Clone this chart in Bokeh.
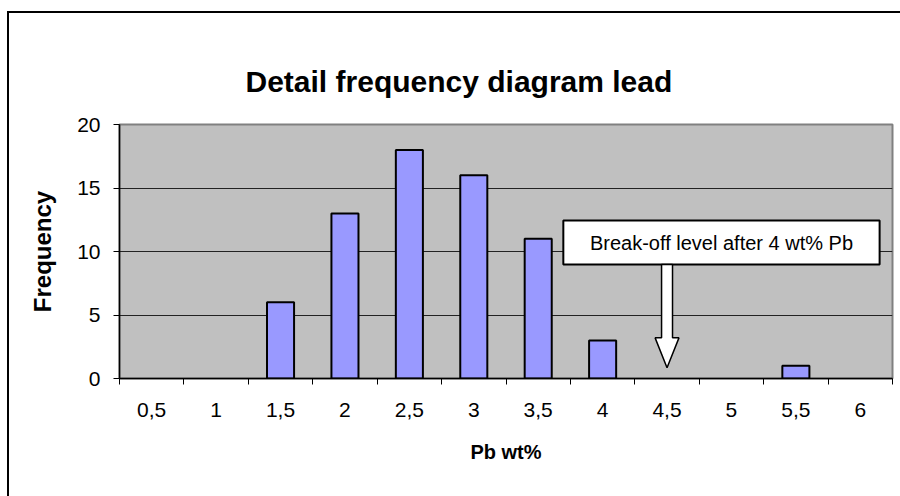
from bokeh.plotting import figure
from bokeh.models import FixedTicker, Range1d, ColumnDataSource
from bokeh.embed import file_html
from bokeh.resources import INLINE
from bokeh.core.properties import value

# ---- data ----
categories = ["0,5", "1", "1,5", "2", "2,5", "3", "3,5", "4", "4,5", "5", "5,5", "6"]
frequency = [0, 0, 6, 13, 18, 16, 11, 3, 0, 0, 1, 0]
y_ticks = [0, 5, 10, 15, 20]
title_text = "Detail frequency diagram lead"
x_label = "Pb wt%"
y_label = "Frequency"
note_text = "Break-off level after 4 wt% Pb"
note_category = "4,5"

FONT = "Liberation Sans"

n = len(categories)
centers = [i + 0.5 for i in range(n)]
bounds = list(range(n + 1))

p = figure(width=900, height=496, output_backend="svg", toolbar_location=None,
           x_range=Range1d(0, n), y_range=Range1d(0, y_ticks[-1]),
           min_border_left=119, min_border_right=8, min_border_top=124,
           min_border_bottom=118)

# chart-area border (left and top edges visible) drawn as host background
p.border_fill_alpha = 0
p.styles = {
    "background": "linear-gradient(#000,#000) 7px 11px / 2px 100% no-repeat, "
                  "linear-gradient(#000,#000) 7px 11px / 100% 2px no-repeat, #ffffff"
}

p.background_fill_color = "#C0C0C0"
p.outline_line_color = "#808080"
p.outline_line_width = 2

# title
p.title.text = title_text
p.title.text_font = FONT
p.title.text_font_size = "30px"
p.title.text_font_style = "bold"
p.title.text_color = "black"
p.title.align = "left"
p.title.offset = 126
p.title.standoff = 53

# grid
p.xgrid.grid_line_color = None
p.ygrid.ticker = FixedTicker(ticks=y_ticks)
p.ygrid.grid_line_color = "#222222"
p.ygrid.grid_line_width = 1

# x axis
xa = p.xaxis[0]
xa.ticker = FixedTicker(ticks=centers, minor_ticks=bounds)
xa.major_label_overrides = {c: lab for c, lab in zip(centers, categories)}
xa.major_tick_out = 0
xa.major_tick_in = 0
xa.minor_tick_out = 6
xa.minor_tick_in = 0
xa.minor_tick_line_color = "black"
xa.minor_tick_line_width = 1
xa.axis_line_color = "black"
xa.axis_line_width = 1.5
xa.major_label_text_font = FONT
xa.major_label_text_font_size = "21px"
xa.major_label_text_color = "black"
xa.major_label_standoff = 18
xa.axis_label = x_label
xa.axis_label_text_font = FONT
xa.axis_label_text_font_size = "20px"
xa.axis_label_text_font_style = "bold"
xa.axis_label_text_color = "black"
xa.axis_label_standoff = 21

# y axis
ya = p.yaxis[0]
ya.ticker = FixedTicker(ticks=y_ticks)
ya.major_tick_out = 6
ya.major_tick_in = 0
ya.minor_tick_out = 0
ya.minor_tick_in = 0
ya.major_tick_line_color = "black"
ya.axis_line_color = "black"
ya.axis_line_width = 1.5
ya.major_label_text_font = FONT
ya.major_label_text_font_size = "21px"
ya.major_label_text_color = "black"
ya.major_label_standoff = 13
ya.axis_label = y_label
ya.axis_label_text_font = FONT
ya.axis_label_text_font_size = "24px"
ya.axis_label_text_font_style = "bold"
ya.axis_label_text_color = "black"
ya.axis_label_standoff = 18

# bars
bar_x = [c for c, f in zip(centers, frequency) if f > 0]
bar_top = [f for f in frequency if f > 0]
src = ColumnDataSource(dict(x=bar_x, top=bar_top))
p.vbar(x="x", top="top", bottom=0, width=0.42, source=src,
       fill_color="#9999FF", line_color="black", line_width=2)

# note box + arrow
ax = categories.index(note_category) + 0.5
box_l, box_r, box_b, box_t = ax - 1.61, ax + 3.30, 8.98, 12.44
p.quad(left=[box_l], right=[box_r], bottom=[box_b], top=[box_t],
       fill_color="white", line_color="black", line_width=2)
p.text(x=[(box_l + box_r) / 2], y=[(box_b + box_t) / 2 - 0.05], text=[note_text],
       text_font=value(FONT), text_font_size="20px", text_color="black",
       text_align="center", text_baseline="middle")
sw, hw, hb, tip = 0.085, 0.185, 3.2, 0.85
p.patch(x=[ax - sw, ax + sw, ax + sw, ax + hw, ax, ax - hw, ax - sw],
        y=[box_b, box_b, hb, hb, tip, hb, hb],
        fill_color="white", line_color="black", line_width=1.5)

open("out.html", "w").write(file_html(p, INLINE))
